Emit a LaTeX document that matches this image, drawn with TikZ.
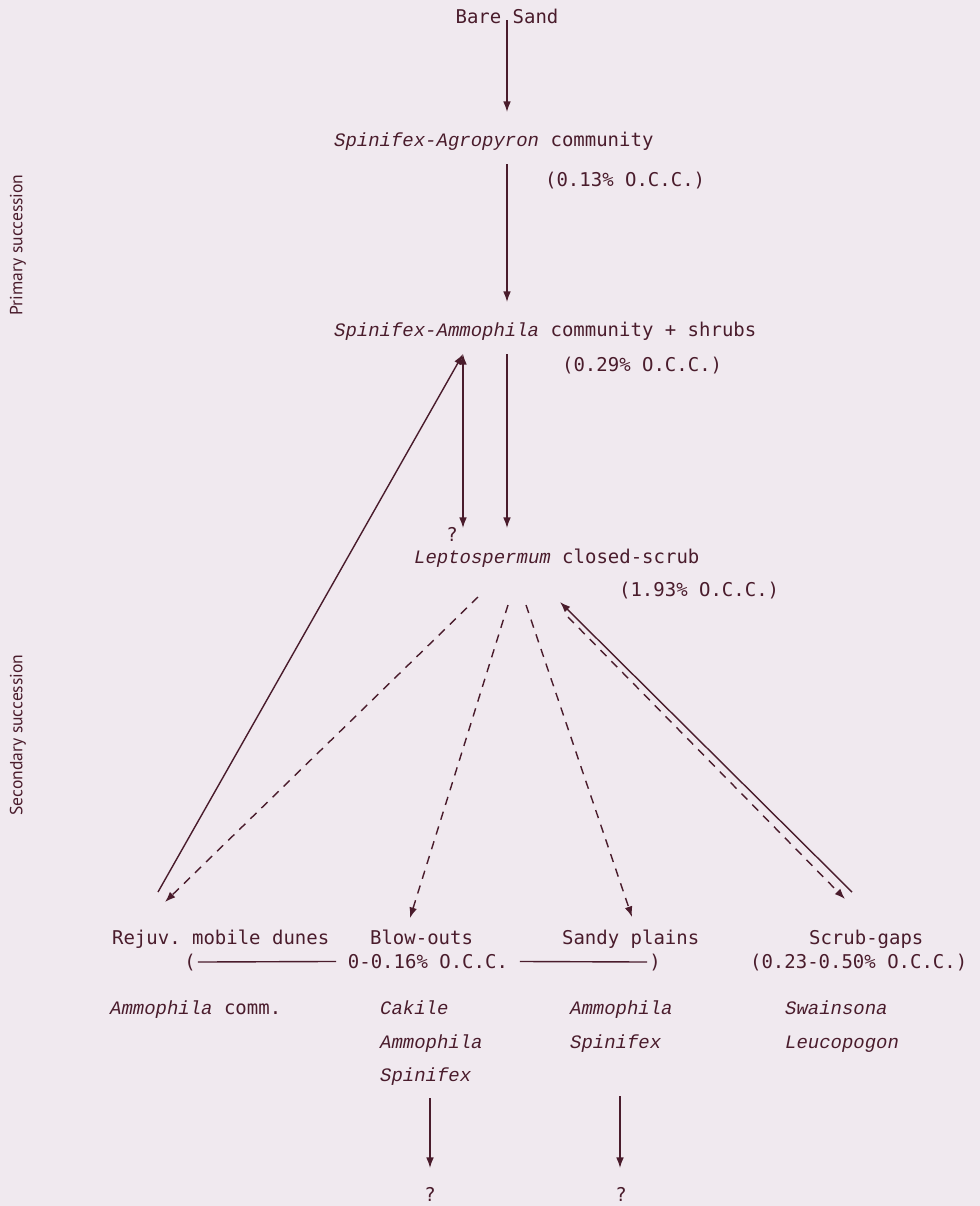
\documentclass[tikz,border=0pt]{standalone}
\usepackage{fontspec}
\setmonofont{DejaVu Sans Mono}
\newfontfamily\sidefont{PT Sans}
\newfontfamily\sppfont{Liberation Mono}
\usetikzlibrary{arrows.meta, positioning}
\definecolor{ink}{HTML}{4A1C2C}
\definecolor{paper}{HTML}{F0E9EF}
\newcommand{\spp}[1]{{\sppfont\itshape #1}}

\begin{document}
\begin{tikzpicture}[
    x=0.025cm, y=-0.025cm,
    line width=1pt, color=ink,
    txt/.style={text=ink, font=\ttfamily\fontsize{13.5}{16}\selectfont, inner sep=1pt, anchor=base west},
    side/.style={text=ink, font=\sidefont\fontsize{12.5}{15}\selectfont, rotate=90},
    succ/.style={-{Latex[length=7.5pt,width=5.5pt]}},
    both/.style={{Latex[length=7.5pt,width=5.5pt]}-{Latex[length=7.5pt,width=5.5pt]}},
    maybe/.style={succ, dash pattern=on 6pt off 5pt},
]
\fill[paper] (0,0) rectangle (980,1206);
\useasboundingbox (0,0) rectangle (980,1206);

% Side labels
\node[side] (prim) at (18,245) {Primary succession};
\node[side] (sec) at (18,735) {Secondary succession};

% Primary succession
\node[txt, anchor=base] (bare) at (507,23) {Bare Sand};
\node[txt] (agro) at (332,146) {\spp{Spinifex-Agropyron} community};
\node[txt] (occa) at (543,186) {(0.13\% O.C.C.)};
\node[txt] (ammo) at (332,336) {\spp{Spinifex-Ammophila} community + shrubs};
\node[txt] (occb) at (560,371) {(0.29\% O.C.C.)};
\node[txt, anchor=base] (qa) at (452,541) {?};
\node[txt] (lepto) at (412,563) {\spp{Leptospermum} closed-scrub};
\node[txt] (occc) at (617,596) {(1.93\% O.C.C.)};

% Secondary succession
\node[txt] (rejuv) at (110,944) {Rejuv. mobile dunes};
\node[txt] (blow) at (368,944) {Blow-outs};
\node[txt] (sandy) at (560,944) {Sandy plains};
\node[txt] (gaps) at (807,944) {Scrub-gaps};
\node[txt, anchor=base] (lpar) at (190,968) {(};
\node[txt, inner xsep=8pt] (range) at (336,968) {0-0.16\% O.C.C.};
\node[txt, anchor=base] (rpar) at (655,968) {)};
\node[txt] (occd) at (748,968) {(0.23-0.50\% O.C.C.)};
\node[txt] (rejspp) at (108,1014) {\spp{Ammophila} comm.};
\node[txt] (blowa) at (378,1014) {\spp{Cakile}};
\node[txt] (blowb) at (378,1048) {\spp{Ammophila}};
\node[txt] (blowc) at (378,1081) {\spp{Spinifex}};
\node[txt] (sandya) at (568,1014) {\spp{Ammophila}};
\node[txt] (sandyb) at (568,1048) {\spp{Spinifex}};
\node[txt] (gapsa) at (783,1014) {\spp{Swainsona}};
\node[txt] (gapsb) at (783,1048) {\spp{Leucopogon}};
\node[txt, anchor=base] (qb) at (430,1201) {?};
\node[txt, anchor=base] (qc) at (621,1201) {?};

% Ends of the arrows
\coordinate (bareend) at (507,20);
\coordinate (agrotop) at (507,112);
\coordinate (agrobot) at (507,164);
\coordinate (ammotop) at (507,302);
\coordinate (ammobot) at (507,354);
\coordinate (ammoleft) at (463,354);
\coordinate (leptotop) at (507,528);
\coordinate (leptoleft) at (463,528);
\coordinate (rejfoot) at (158,892);
\coordinate (rejtip) at (165,902);
\coordinate (fana) at (478,597);
\coordinate (fanb) at (508,605);
\coordinate (fanc) at (526,605);
\coordinate (fand) at (568,617);
\coordinate (leptoright) at (560,602);
\coordinate (blowtip) at (410,918);
\coordinate (sandytip) at (632,917);
\coordinate (gapstip) at (845,899);
\coordinate (gapsfoot) at (852,892);
\coordinate (blowout) at (430,1098);
\coordinate (blowend) at (430,1168);
\coordinate (sandyout) at (620,1096);
\coordinate (sandyend) at (620,1168);

% Connectors
\draw[succ] (bareend) -- (agrotop);
\draw[succ] (agrobot) -- (ammotop);
\draw[succ] (ammobot) -- (leptotop);
\draw[both] (ammoleft) -- (leptoleft);
\draw[succ] (rejfoot) -- (ammoleft);
\draw[maybe] (fana) -- (rejtip);
\draw[maybe] (fanb) -- (blowtip);
\draw[maybe] (fanc) -- (sandytip);
\draw[succ] (gapsfoot) -- (leptoright);
\draw[maybe] (fand) -- (gapstip);
\draw (lpar) -- (range);
\draw (range) -- (rpar);
\draw[succ] (blowout) -- (blowend);
\draw[succ] (sandyout) -- (sandyend);

\end{tikzpicture}
\end{document}
